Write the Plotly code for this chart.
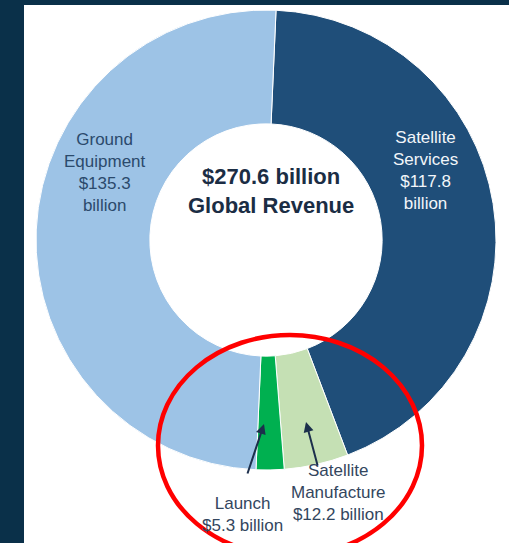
import plotly.graph_objects as go

# Revenue by segment (billions of US dollars), clockwise from 12 o'clock
segments = ["Satellite Services", "Satellite Manufacture", "Launch", "Ground Equipment"]
revenue = [117.8, 12.2, 5.3, 135.3]
total_revenue = 270.6
segment_colors = ["#1f4e79", "#c5e0b4", "#00b050", "#9dc3e6"]

W, H = 509, 543


def px(x):
    return x / W


def py(y):
    return 1 - y / H


# Donut placement (pixels, measured from the top-left corner)
cx, cy, r = 266, 240, 230

fig = go.Figure(
    go.Pie(
        labels=segments,
        values=revenue,
        sort=False,
        direction="clockwise",
        rotation=2.5,
        hole=0.505,
        textinfo="none",
        marker=dict(colors=segment_colors, line=dict(color="white", width=1)),
        domain=dict(x=[px(cx - r), px(cx + r)], y=[py(cy + r), py(cy - r)]),
        showlegend=False,
    )
)

label_font = "Liberation Sans, Arial, sans-serif"

annotations = [
    dict(x=px(105), y=py(172),
         text="Ground<br>Equipment<br>$%.1f<br>billion" % revenue[3],
         font=dict(size=17, color="#2b4a6c", family=label_font)),
    dict(x=px(425), y=py(171),
         text="Satellite<br>Services<br>$%.1f<br>billion" % revenue[0],
         font=dict(size=17, color="#f2f6fa", family=label_font)),
    dict(x=px(271), y=py(191),
         text="<b>$%.1f billion<br>Global Revenue</b>" % total_revenue,
         font=dict(size=22, color="#1b2d44", family=label_font)),
    dict(x=px(338), y=py(492),
         text="Satellite<br>Manufacture<br>$%.1f billion" % revenue[1],
         font=dict(size=17, color="#33465e", family=label_font)),
    dict(x=px(242), y=py(514),
         text="Launch<br>$%.1f billion" % revenue[2],
         font=dict(size=17, color="#33465e", family=label_font)),
]
for a in annotations:
    a.update(xref="paper", yref="paper", showarrow=False,
             xanchor="center", yanchor="middle")

# Pointer arrows from the small-segment labels into their slices
for tip, tail in [((264, 424), (247, 475)), ((306, 422), (318, 467))]:
    annotations.append(dict(
        xref="paper", yref="paper",
        x=px(tip[0]), y=py(tip[1]),
        axref="pixel", ayref="pixel",
        ax=tail[0] - tip[0], ay=tail[1] - tip[1],
        text="", showarrow=True,
        arrowhead=2, arrowsize=1, arrowwidth=2, arrowcolor="#1c2f4c",
    ))

shapes = [
    # white panel inside the dark frame
    dict(type="rect", xref="paper", yref="paper",
         x0=px(24), x1=1, y0=0, y1=py(5),
         fillcolor="white", line=dict(width=0), layer="below"),
    # red highlight ring around the small segments
    dict(type="circle", xref="paper", yref="paper",
         x0=px(158), x1=px(422), y0=py(556), y1=py(335),
         line=dict(color="#ff0000", width=4.5), fillcolor="rgba(0,0,0,0)"),
]

fig.update_layout(
    width=W, height=H,
    margin=dict(l=0, r=0, t=0, b=0),
    paper_bgcolor="#0a3049",
    plot_bgcolor="white",
    annotations=annotations,
    shapes=shapes,
)

fig.write_html("out.html")
